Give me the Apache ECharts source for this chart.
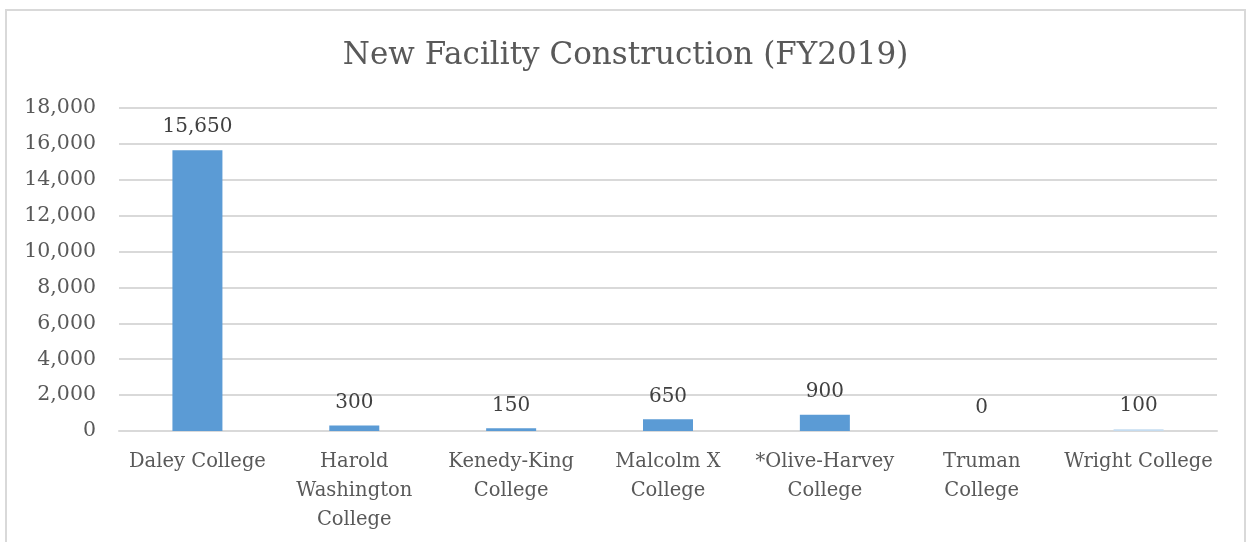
<!DOCTYPE html>
<html>
<head>
<meta charset="utf-8">
<script src="https://cdn.jsdelivr.net/npm/echarts@6/dist/echarts.min.js"></script>
<style>
  html, body { margin: 0; padding: 0; background: #fff; }
  #chart { box-sizing: border-box; border: 2px solid #d9d9d9; border-bottom: none;
           position: absolute; left: 5px; top: 9px; width: 1241px; height: 533px; }
</style>
</head>
<body>
<div id="chart"></div>
<script>
var colleges = ['Daley College', 'Harold\nWashington\nCollege', 'Kenedy-King\nCollege', 'Malcolm X\nCollege',
	'*Olive-Harvey\nCollege', 'Truman\nCollege', 'Wright College'];
var amounts = [15650, 300, 150, 650, 900, 0, 100];
var barColors = ['#5b9bd5', '#5b9bd5', '#5b9bd5', '#5b9bd5', '#5b9bd5', '#5b9bd5', '#c5dcf0'];

var fontName = 'DejaVu Serif';

var dom = document.getElementById('chart');
var myChart = echarts.init(dom);
var option = {
	animation: false,
	title: {
		text: 'New Facility Construction (FY2019)',
		left: 'center',
		top: 24,
		textStyle: { fontFamily: fontName, fontWeight: 'normal', fontSize: 31, color: '#595959' }
	},
	grid: { left: 112, right: 27, top: 97, bottom: 111 },
	xAxis: {
		type: 'category',
		data: colleges,
		axisLine: { lineStyle: { color: '#d9d9d9', width: 2 } },
		axisTick: { show: false },
		axisLabel: { fontFamily: fontName, fontSize: 19.5, color: '#595959', lineHeight: 29, margin: 16, interval: 0 }
	},
	yAxis: {
		type: 'value',
		min: 0,
		max: 18000,
		interval: 2000,
		axisLine: { show: false },
		axisTick: { show: false },
		splitLine: { lineStyle: { color: '#d9d9d9', width: 2 } },
		axisLabel: {
			fontFamily: fontName, fontSize: 20.5, color: '#595959', margin: 23,
			formatter: function (v) { return v.toLocaleString('en-US'); }
		}
	},
	series: [{
		type: 'bar',
		barWidth: 50,
		data: amounts.map(function (v, i) { return { value: v, itemStyle: { color: barColors[i] } }; }),
		label: {
			show: true,
			position: 'top',
			distance: 13,
			fontFamily: fontName, fontSize: 20, color: '#404040',
			formatter: function (p) { return p.value.toLocaleString('en-US'); }
		}
	}]
};
myChart.setOption(option, true);
</script>
</body>
</html>
